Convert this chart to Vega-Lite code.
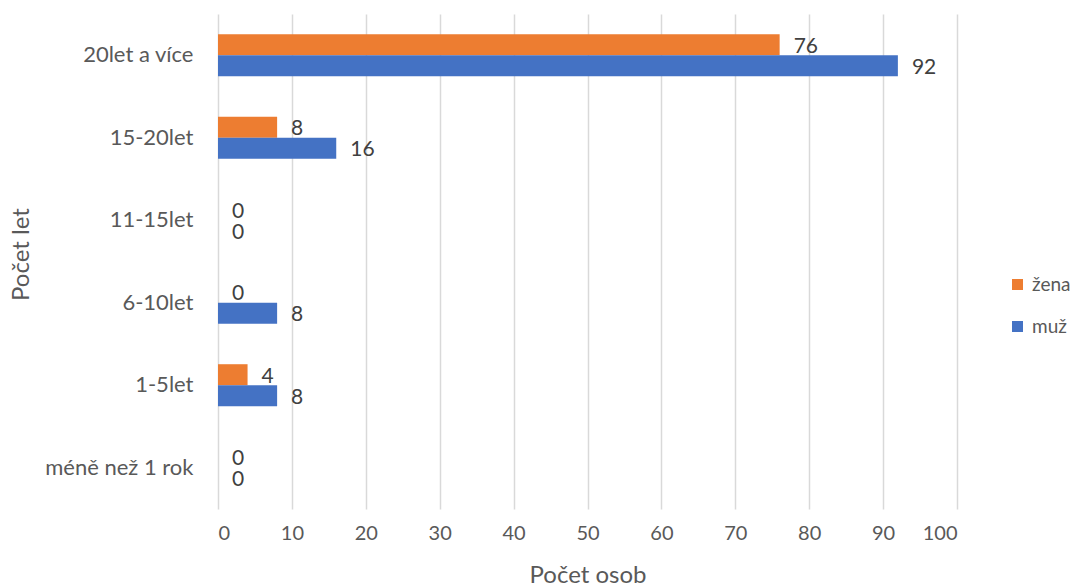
{
  "$schema": "https://vega.github.io/schema/vega-lite/v6.json",
  "autosize": {"type": "none"},
  "width": 739,
  "height": 495,
  "padding": {"left": 218, "top": 14, "right": 122, "bottom": 79},
  "background": "white",
  "config": {
    "font": "Lato",
    "view": {"stroke": null}
  },
  "data": {
    "values": [
      {"kategorie": "20let a více", "pohlavi": "žena", "pocet": 76},
      {"kategorie": "20let a více", "pohlavi": "muž", "pocet": 92},
      {"kategorie": "15-20let", "pohlavi": "žena", "pocet": 8},
      {"kategorie": "15-20let", "pohlavi": "muž", "pocet": 16},
      {"kategorie": "11-15let", "pohlavi": "žena", "pocet": 0},
      {"kategorie": "11-15let", "pohlavi": "muž", "pocet": 0},
      {"kategorie": "6-10let", "pohlavi": "žena", "pocet": 0},
      {"kategorie": "6-10let", "pohlavi": "muž", "pocet": 8},
      {"kategorie": "1-5let", "pohlavi": "žena", "pocet": 4},
      {"kategorie": "1-5let", "pohlavi": "muž", "pocet": 8},
      {"kategorie": "méně než 1 rok", "pohlavi": "žena", "pocet": 0},
      {"kategorie": "méně než 1 rok", "pohlavi": "muž", "pocet": 0}
    ]
  },
  "encoding": {
    "y": {
      "field": "kategorie",
      "type": "nominal",
      "sort": ["20let a více", "15-20let", "11-15let", "6-10let", "1-5let", "méně než 1 rok"],
      "scale": {"paddingInner": 0.49, "paddingOuter": 0.245},
      "axis": {
        "title": "Počet let",
        "titleFontSize": 24,
        "titleFontWeight": "normal",
        "titleColor": "#595959",
        "titleAngle": -90,
        "titleAlign": "center",
        "titleBaseline": "alphabetic",
        "titleX": -190,
        "titleY": 240,
        "labelFontSize": 22,
        "labelColor": "#595959",
        "labelPadding": 25,
        "ticks": false,
        "domain": false,
        "grid": false
      }
    },
    "yOffset": {
      "field": "pohlavi",
      "type": "nominal",
      "sort": ["žena", "muž"]
    },
    "x": {
      "field": "pocet",
      "type": "quantitative",
      "scale": {"domain": [0, 100]},
      "axis": {
        "title": "Počet osob",
        "titleFontSize": 24,
        "titleFontWeight": "normal",
        "titleColor": "#595959",
        "titleBaseline": "alphabetic",
        "titleY": 73,
        "labelFontSize": 20,
        "labelColor": "#595959",
        "labelPadding": 14,
        "labelOverlap": false,
        "values": [0, 10, 20, 30, 40, 50, 60, 70, 80, 90, 100],
        "ticks": false,
        "domain": false,
        "grid": true,
        "gridColor": "#d9d9d9",
        "gridWidth": 1.5
      }
    }
  },
  "layer": [
    {
      "mark": {"type": "bar"},
      "encoding": {
        "color": {
          "field": "pohlavi",
          "type": "nominal",
          "scale": {"domain": ["žena", "muž"], "range": ["#ED7D31", "#4472C4"]},
          "legend": {
            "title": null,
            "orient": "none",
            "legendX": 790,
            "legendY": 261,
            "padding": 0,
            "symbolType": "square",
            "symbolSize": 121,
            "symbolStrokeWidth": 0,
            "labelFontSize": 19,
            "labelColor": "#595959",
            "rowPadding": 22,
            "labelOffset": 5
          }
        }
      }
    },
    {
      "mark": {"type": "text", "align": "left", "baseline": "middle", "dx": 14, "dy": 2, "fontSize": 21, "color": "#404040"},
      "encoding": {
        "text": {"field": "pocet", "type": "quantitative"}
      }
    }
  ]
}
